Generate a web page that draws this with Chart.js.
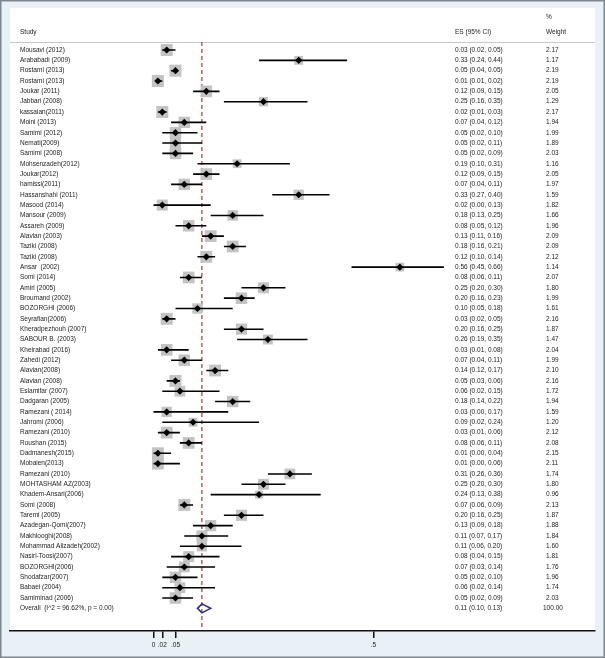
<!DOCTYPE html>
<html>
<head>
<meta charset="utf-8">
<script src="https://cdn.jsdelivr.net/npm/chart.js@4"></script>
<style>
  body { margin: 0; background: #fff; }
  canvas { display: block; }
</style>
</head>
<body>
<canvas id="chart" width="605" height="658"></canvas>
<script>
// study rows, top to bottom
var studies = [
  'Mousavi (2012)', 'Arababadi (2009)', 'Rostami (2013)', 'Rostami (2013)', 'Joukar (2011)',
  'Jabbari (2008)', 'kassaian(2011)', 'Moini (2013)', 'Samimi (2012)', 'Nemati(2009)',
  'Samimi (2008)', 'Mohsenzadeh(2012)', 'Joukar(2012)', 'hamissi(2011)', 'Hassanshahi (2011)',
  'Masood (2014)', 'Mansour (2009)', 'Assareh (2009)', 'Alavian (2003)', 'Taziki (2008)',
  'Taziki (2008)', 'Ansar  (2002)', 'Somi (2014)', 'Amiri (2005)', 'Broumand (2002)',
  'BOZORGHI (2006)', 'Seyrafian(2006)', 'Kheradpezhouh (2007)', 'SABOUR B. (2003)', 'Kheirabad (2016)',
  'Zahedi (2012)', 'Alavian(2008)', 'Alavian (2008)', 'Eslamifar (2007)', 'Dadgaran (2005)',
  'Ramezani ( 2014)', 'Jahromi (2006)', 'Ramezani (2010)', 'Roushan (2015)', 'Dadmanesh(2015)',
  'Mobaien(2013)', 'Ramezani (2010)', 'MOHTASHAM AZ(2003)', 'Khadem-Ansari(2006)', 'Somi (2008)',
  'Taremi (2005)', 'Azadegan-Qomi(2007)', 'Makhlooghi(2008)', 'Mohammad Alizadeh(2002)', 'Nasiri-Toosi(2007)',
  'BOZORGHI(2006)', 'Shodafzar(2007)', 'Babaei (2004)', 'Samiminad (2006)'
];
var es = [
  0.03, 0.33, 0.05, 0.01, 0.12, 0.25, 0.02, 0.07, 0.05, 0.05,
  0.05, 0.19, 0.12, 0.07, 0.33, 0.02, 0.18, 0.08, 0.13, 0.18,
  0.12, 0.56, 0.08, 0.25, 0.20, 0.10, 0.03, 0.20, 0.26, 0.03,
  0.07, 0.14, 0.05, 0.06, 0.18, 0.03, 0.09, 0.03, 0.08, 0.01,
  0.01, 0.31, 0.25, 0.24, 0.07, 0.20, 0.13, 0.11, 0.11, 0.08,
  0.07, 0.05, 0.06, 0.05
];
var lower = [
  0.02, 0.24, 0.04, 0.01, 0.09, 0.16, 0.01, 0.04, 0.02, 0.02,
  0.02, 0.10, 0.09, 0.04, 0.27, 0.00, 0.13, 0.05, 0.11, 0.16,
  0.10, 0.45, 0.06, 0.20, 0.16, 0.05, 0.02, 0.16, 0.19, 0.01,
  0.04, 0.12, 0.03, 0.02, 0.14, 0.00, 0.02, 0.01, 0.06, 0.00,
  0.00, 0.26, 0.20, 0.13, 0.06, 0.16, 0.09, 0.07, 0.06, 0.04,
  0.03, 0.02, 0.02, 0.02
];
var upper = [
  0.05, 0.44, 0.05, 0.02, 0.15, 0.35, 0.03, 0.12, 0.10, 0.11,
  0.09, 0.31, 0.15, 0.11, 0.40, 0.13, 0.25, 0.12, 0.16, 0.21,
  0.14, 0.66, 0.11, 0.30, 0.23, 0.18, 0.05, 0.25, 0.35, 0.08,
  0.11, 0.17, 0.06, 0.15, 0.22, 0.17, 0.24, 0.06, 0.11, 0.04,
  0.06, 0.36, 0.30, 0.38, 0.09, 0.25, 0.18, 0.17, 0.20, 0.15,
  0.14, 0.10, 0.14, 0.09
];
var weights = [
  2.17, 1.17, 2.19, 2.19, 2.05, 1.29, 2.17, 1.94, 1.99, 1.89,
  2.03, 1.16, 2.05, 1.97, 1.59, 1.82, 1.66, 1.96, 2.09, 2.09,
  2.12, 1.14, 2.07, 1.80, 1.99, 1.61, 2.16, 1.87, 1.47, 2.04,
  1.99, 2.10, 2.16, 1.72, 1.94, 1.59, 1.20, 2.12, 2.08, 2.15,
  2.11, 1.74, 1.80, 0.96, 2.13, 1.87, 1.88, 1.84, 1.60, 1.81,
  1.76, 1.96, 1.74, 2.03
];
var overallLabel = 'Overall  (I^2 = 96.62%, p = 0.00)';
var overall = [0.11, 0.10, 0.13];   // es, lower, upper
var overallWeight = '100.00';
var tickValues = [0, 0.02, 0.05, 0.5];
var tickLabels = ['0', '.02', '.05', '.5'];

var rows = studies.map(function (s, i) { return i + 1; });
var overallRow = studies.length + 1;

function fmt(v) { return v.toFixed(2); }
function boxSide(w) { return 12 * Math.sqrt(w / 2.17); }

var ink = '#222';

var forestPlugin = {
  id: 'forest',
  beforeDraw: function (chart) {
    var c = chart.ctx, a = chart.chartArea;
    c.save();
    c.fillStyle = '#e8f1f5';
    c.fillRect(0, 0, chart.width, chart.height);
    c.fillStyle = '#ffffff';
    c.fillRect(a.left, 8, a.right - a.left, a.bottom - 8);
    c.strokeStyle = '#7d878c';
    c.lineWidth = 1.5;
    c.strokeRect(0.75, 0.75, chart.width - 1.5, chart.height - 1.5);
    // header rule
    c.strokeStyle = '#c4c8ca';
    c.lineWidth = 1;
    c.beginPath();
    c.moveTo(a.left, a.top + 0.5);
    c.lineTo(a.right, a.top + 0.5);
    c.stroke();
    // reference line at the overall estimate
    var x = chart.scales.x.getPixelForValue(overall[0]);
    c.strokeStyle = '#a23a3a';
    c.lineWidth = 1.2;
    c.setLineDash([4, 3]);
    c.beginPath();
    c.moveTo(x, a.top);
    c.lineTo(x, a.bottom);
    c.stroke();
    c.restore();
  },
  beforeDatasetDraw: function (chart, args) {
    if (args.index !== 0) return;
    var c = chart.ctx, xs = chart.scales.x, ys = chart.scales.y;
    c.save();
    c.strokeStyle = '#000';
    c.lineWidth = 1.6;
    c.beginPath();
    rows.forEach(function (r, i) {
      var y = ys.getPixelForValue(r);
      c.moveTo(xs.getPixelForValue(lower[i]), y);
      c.lineTo(xs.getPixelForValue(upper[i]), y);
    });
    c.stroke();
    // overall diamond
    var y = ys.getPixelForValue(overallRow);
    c.strokeStyle = '#2b2f7a';
    c.lineWidth = 1.6;
    c.beginPath();
    c.moveTo(xs.getPixelForValue(overall[1]), y);
    c.lineTo(xs.getPixelForValue(overall[0]), y - 4.5);
    c.lineTo(xs.getPixelForValue(overall[2]), y);
    c.lineTo(xs.getPixelForValue(overall[0]), y + 4.5);
    c.closePath();
    c.stroke();
    c.restore();
  },
  afterDraw: function (chart) {
    var c = chart.ctx, ys = chart.scales.y;
    c.save();
    c.fillStyle = ink;
    c.textBaseline = 'middle';
    c.font = '6.5px "Liberation Sans", Arial, sans-serif';
    c.fillText('Study', 20, 32);
    c.fillText('ES (95% CI)', 455, 32);
    c.fillText('%', 546, 17);
    c.fillText('Weight', 546, 32);
    rows.forEach(function (r, i) {
      var y = ys.getPixelForValue(r);
      c.fillText(studies[i], 20, y);
      c.fillText(fmt(es[i]) + ' (' + fmt(lower[i]) + ', ' + fmt(upper[i]) + ')', 455, y);
      c.fillText(weights[i].toFixed(2), 546, y);
    });
    var yo = ys.getPixelForValue(overallRow);
    c.fillText(overallLabel, 20, yo);
    c.fillText(fmt(overall[0]) + ' (' + fmt(overall[1]) + ', ' + fmt(overall[2]) + ')', 455, yo);
    c.fillText(overallWeight, 543, yo);
    c.restore();
  }
};

var ctx = document.getElementById('chart').getContext('2d');

var chart = new Chart(ctx, {
  type: 'scatter',
  data: {
    datasets: [{
      label: 'ES',
      data: rows.map(function (r, i) { return { x: es[i], y: r }; }),
      pointStyle: 'rectRot',
      pointRadius: 3.6,
      backgroundColor: '#000',
      borderWidth: 0,
      order: 0
    }, {
      label: 'Weight',
      data: rows.map(function (r, i) { return { x: es[i], y: r }; }),
      pointStyle: 'rect',
      pointRadius: function (c) { return boxSide(weights[c.dataIndex]) / Math.SQRT2; },
      backgroundColor: '#c3c3c3',
      borderWidth: 0,
      order: 2
    }]
  },
  options: {
    responsive: false,
    animation: false,
    events: [],
    layout: { padding: { left: 10, right: 10, top: 42, bottom: 0 } },
    plugins: { legend: { display: false }, tooltip: { enabled: false } },
    scales: {
      x: {
        type: 'linear',
        min: -0.3261,
        max: 1.0034,
        afterBuildTicks: function (scale) {
          scale.ticks = tickValues.map(function (v) { return { value: v }; });
        },
        afterFit: function (scale) { scale.height = 27; },
        ticks: {
          autoSkip: false,
          maxRotation: 0,
          minRotation: 0,
          padding: 3,
          color: ink,
          font: { family: '"Liberation Sans", Arial, sans-serif', size: 6.5 },
          callback: function (v) { return tickLabels[tickValues.indexOf(v)]; }
        },
        grid: { drawOnChartArea: false, drawTicks: true, tickLength: 7, color: '#111', lineWidth: 1.5 },
        border: { display: true, color: '#111', width: 1.5 }
      },
      y: {
        type: 'linear',
        display: false,
        reverse: true,
        min: 0.2263,
        max: 57.19
      }
    }
  },
  plugins: [forestPlugin]
});
</script>
</body>
</html>
